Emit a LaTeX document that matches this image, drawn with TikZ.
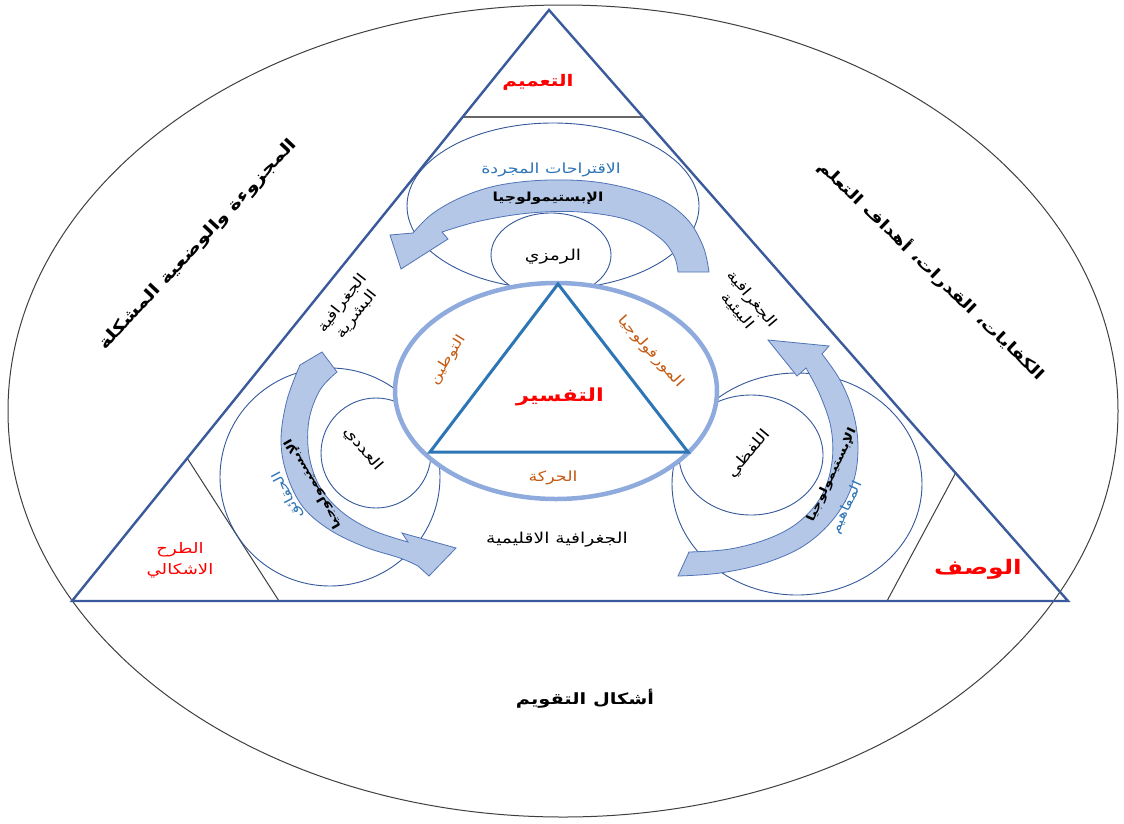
\documentclass[tikz,border=0pt]{standalone}
\usepackage{fontspec}
\newfontfamily\arfont[Script=Arabic, FakeStretch=1.25]{DejaVu Sans}
\TeXXeTstate=1
\usetikzlibrary{calc}

\definecolor{triblue}{HTML}{3A5A9C}
\definecolor{ringblue}{HTML}{8FAADC}
\definecolor{innerblue}{HTML}{2E75B6}
\definecolor{arrowfill}{HTML}{B4C7E7}
\definecolor{arrowline}{HTML}{4F73B6}
\definecolor{circline}{HTML}{34589A}
\definecolor{txtorange}{HTML}{C55A11}
\definecolor{txtblue}{HTML}{2E75B6}
\definecolor{txtred}{HTML}{FF0000}
\definecolor{sepgray}{HTML}{3F3F3F}

\newcommand{\rl}[1]{\beginR#1\endR}
\newcommand{\fs}[1]{\fontsize{#1}{#1}\selectfont}

\tikzset{
  outerline/.style={draw=sepgray, line width=1pt},
  bigtri/.style={draw=triblue, line width=2.4pt, line join=miter},
  sepline/.style={draw=sepgray, line width=1pt},
  topsep/.style={draw=gray!80!black, line width=1.6pt},
  grpcirc/.style={draw=circline, line width=0.9pt},
  bandarrow/.style={fill=arrowfill, draw=arrowline, line width=0.8pt, line join=miter},
  ring/.style={draw=ringblue, line width=4.5pt, fill=white},
  innertri/.style={draw=innerblue, line width=3pt, line join=miter},
  lbl/.style={inner sep=0pt, font=\arfont\fs{15}},
}

\begin{document}
\begin{tikzpicture}[x=1pt, y=-1pt]
  \fill[white] (0,0) rectangle (1124,823);
  \useasboundingbox (0,0) rectangle (1124,823);

  % outer frame
  \draw[outerline] (563,411) ellipse [x radius=555, y radius=406];

  % large triangle and its corner cuts
  \coordinate (A) at (549,10);
  \coordinate (B) at (72,601);
  \coordinate (C) at (1068,601);
  \coordinate (Tl) at ($(A)!0.1813!(B)$);
  \coordinate (Tr) at ($(A)!0.1813!(C)$);
  \coordinate (Ls) at ($(B)!0.2416!(A)$);
  \coordinate (Lb) at (279,601);
  \coordinate (Rs) at ($(C)!0.2166!(A)$);
  \coordinate (Rb) at (887,601);
  \draw[topsep] (Tl) -- (Tr);
  \draw[sepline] (Ls) -- (Lb);
  \draw[sepline] (Rs) -- (Rb);

  % circle groups
  \draw[grpcirc] (553,206) ellipse [x radius=146, y radius=83];
  \draw[grpcirc, fill=white] (551,255) ellipse [x radius=60, y radius=42];
  \draw[grpcirc] (330,477) ellipse [x radius=110, y radius=109];
  \draw[grpcirc] (376,453) circle [radius=55];
  \draw[grpcirc] (797,484) ellipse [x radius=125, y radius=111];
  \draw[grpcirc] (751,455) ellipse [x radius=72, y radius=60];

  \draw[bigtri] (A) -- (B) -- (C) -- cycle;

  % curved band arrows
  \draw[bandarrow]
    plot[smooth, tension=0.6] coordinates {(709,272) (703,246) (686,218) (655,197) (603,183) (550,180) (500,185) (462,197) (432,214) (413,233)}
    -- (390,235) -- (401,269) -- (448,239) --
    plot[smooth, tension=0.6] coordinates {(442,232) (480,221) (530,213) (580,212) (628,220) (660,238) (674,256) (678,272)}
    -- cycle;
  \draw[bandarrow]
    plot[smooth, tension=0.6] coordinates {(300,365) (287,400) (281,440) (287,475) (303,507) (330,530) (365,547) (400,558) (418,566)}
    -- (429,576) -- (456,548) -- (402,533) --
    plot[smooth, tension=0.6] coordinates {(408,542) (372,530) (342,512) (320,487) (309,455) (309,420) (320,390) (337,372)}
    -- (322,352) -- cycle;
  \draw[bandarrow]
    plot[smooth, tension=0.6] coordinates {(678,576) (720,573) (765,563) (805,545) (835,517) (853,483) (858,447) (853,412) (840,380) (822,354)}
    -- (829,346) -- (768,340) -- (797,376) --
    plot[smooth, tension=0.6] coordinates {(806,368) (820,395) (831,428) (832,462) (822,495) (800,521) (770,538) (730,549) (689,552)}
    -- cycle;

  % central ring and triangle
  \draw[ring] (556,391) ellipse [x radius=161, y radius=108];
  \draw[innertri] (558,284) -- (430,452) -- (688,452) -- cycle;

  % corner labels
  \node[lbl, text=txtred, font=\arfont\bfseries\fs{16}] (gen) at (538,82) {\rl{التعميم}};
  \node[lbl, text=txtred, font=\arfont\bfseries\fs{20}] (desc) at (978,569) {\rl{الوصف}};
  \node[lbl, text=txtred, font=\arfont\fs{14.5}, align=center] (prob) at (180,560) {\rl{الطرح}\\[5pt]\rl{الاشكالي}};

  % frame labels
  \node[lbl, font=\arfont\bfseries\fs{16.5}, rotate=47] (mod) at (198,245) {\rl{المجزوءة والوضعية المشكلة}};
  \node[lbl, font=\arfont\bfseries\fs{15.5}, rotate=-44] (comp) at (932,270) {\rl{الكفايات، القدرات، أهداف التعلم}};
  \node[lbl, font=\arfont\bfseries\fs{15.5}] (eval) at (585,699) {\rl{أشكال التقويم}};

  % top group
  \node[lbl, text=txtblue, font=\arfont\fs{14}] (abs) at (551,170) {\rl{الاقتراحات المجردة}};
  \node[lbl, font=\arfont\bfseries\fs{12.5}] (epiT) at (548,198) {\rl{الإبستيمولوجيا}};
  \node[lbl] (sym) at (553,257) {\rl{الرمزي}};

  % left group
  \node[lbl, font=\arfont\fs{14.5}, align=center, rotate=52] (human) at (350,309) {\rl{الجغرافية}\\[3pt]\rl{البشرية}};
  \node[lbl, rotate=-50] (num) at (363,449) {\rl{العددي}};
  \node[lbl, font=\arfont\bfseries\fs{11.5}, rotate=120] (epiL) at (313,484) {\rl{الإبستيمولوجيا}};
  \node[lbl, text=txtblue, font=\arfont\fs{13}, rotate=118] (facts) at (288,495) {\rl{الحقائق}};

  % right group
  \node[lbl, font=\arfont\fs{14.5}, align=center, rotate=-50] (env) at (745,305) {\rl{الجغرافية}\\[3pt]\rl{البيئية}};
  \node[lbl, rotate=50] (verb) at (749,454) {\rl{اللفظي}};
  \node[lbl, font=\arfont\bfseries\fs{11.5}, rotate=65] (epiR) at (832,475) {\rl{الإبستيمولوجيا}};
  \node[lbl, text=txtblue, font=\arfont\fs{13}, rotate=65] (concepts) at (847,508) {\rl{المفاهيم}};

  % bottom label
  \node[lbl] (reg) at (557,540) {\rl{الجغرافية الاقليمية}};

  % centre
  \node[lbl, text=txtred, font=\arfont\bfseries\fs{18}] (expl) at (560,397) {\rl{التفسير}};
  \node[lbl, text=txtorange, font=\arfont\fs{13.5}, rotate=58] (loc) at (448,360) {\rl{التوطين}};
  \node[lbl, text=txtorange, font=\arfont\fs{14}, rotate=-48] (morph) at (651,352) {\rl{المورفولوجيا}};
  \node[lbl, text=txtorange, font=\arfont\fs{14}] (move) at (553,478) {\rl{الحركة}};
\end{tikzpicture}
\end{document}
